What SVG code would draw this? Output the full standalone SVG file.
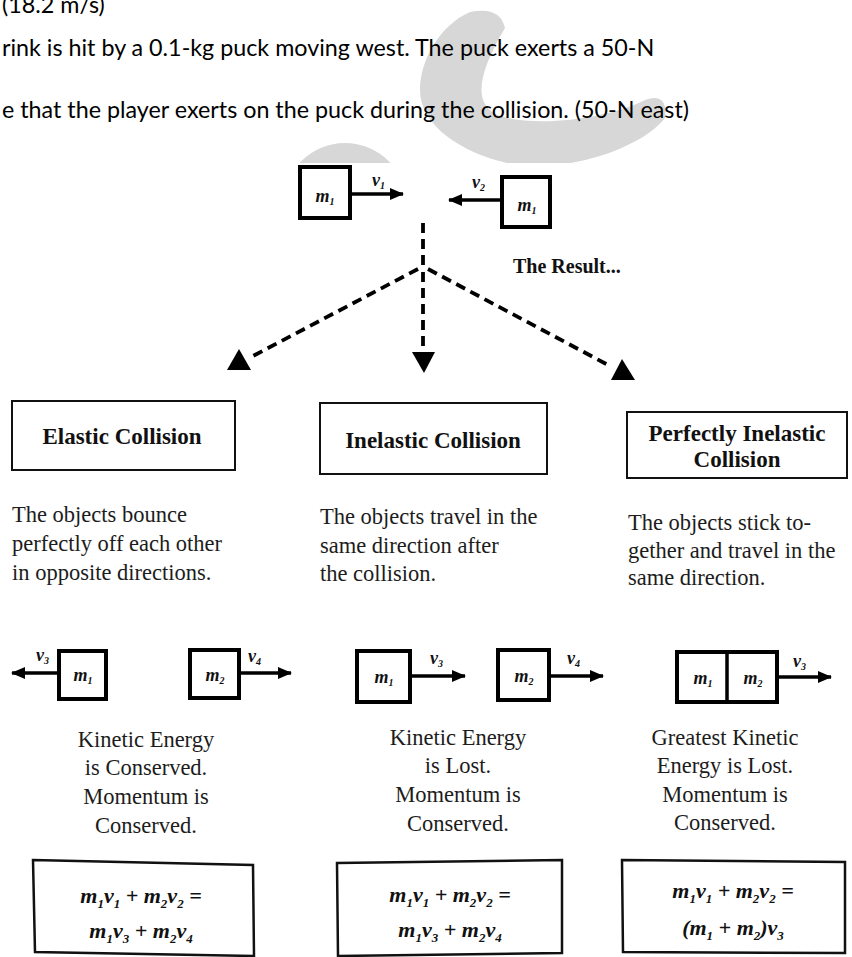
<svg xmlns="http://www.w3.org/2000/svg" width="852" height="957" viewBox="0 0 852 957">
<style>
.doc{font-family:Lato,"Liberation Sans",sans-serif;font-size:23.3px;fill:#000}
.ttl{font-family:"Liberation Serif",serif;font-weight:bold;font-size:23px;fill:#111}
.res{font-family:"Liberation Serif",serif;font-weight:bold;font-size:20px;fill:#111}
.body{font-family:"Liberation Serif",serif;font-size:22.5px;fill:#1c1c1c}
.eq{font-family:"Liberation Serif",serif;font-weight:bold;font-style:italic;font-size:22px;fill:#111}
.lbl{font-family:"Liberation Serif",serif;font-weight:bold;font-style:italic;font-size:18px;fill:#111}
.tbox{fill:none;stroke:#111;stroke-width:2}
.mbox{fill:#fff;stroke:#000;stroke-width:4}
.ebox{fill:none;stroke:#111;stroke-width:2.5}
.arr{stroke:#000;stroke-width:3.5;fill:none;marker-end:url(#ah)}
.dash{stroke:#000;stroke-width:3.8;stroke-dasharray:10 6;fill:none}
.head{fill:#000}
.wm{fill:#d7d7d7}
</style>
<defs>
<marker id="ah" viewBox="0 0 14 12" refX="13" refY="6" markerWidth="14" markerHeight="12" markerUnits="userSpaceOnUse" orient="auto">
<path d="M0,0 L14,6 L0,12 z" fill="#000"/>
</marker>
<clipPath id="topclip"><rect x="0" y="0" width="852" height="163"/></clipPath>
</defs>
<rect width="852" height="957" fill="#fff"/>
<g id="watermark" clip-path="url(#topclip)">
<path class="wm" d="M470 12 Q500 6 505 28 C480 70 470 105 500 116 C540 128 610 118 645 100 Q668 92 665 118 C640 150 560 175 507 163 C460 152 420 125 420 90 C420 60 440 25 470 12 Z"/>
<circle class="wm" cx="345" cy="205" r="62"/>
</g>
<g id="document-text">
<text class="doc" x="2" y="13">(18.2 m/s)</text>
<text class="doc" x="2" y="56">rink is hit by a 0.1-kg puck moving west. The puck exerts a 50-N</text>
<text class="doc" x="2" y="118">e that the player exerts on the puck during the collision. (50-N east)</text>
</g>
<g id="connectors">
<line class="arr" x1="352" y1="194" x2="403" y2="194"/>
<line class="arr" x1="500" y1="200" x2="449" y2="200"/>
<line class="dash" x1="423" y1="223" x2="423" y2="267"/>
<line class="dash" x1="423" y1="272" x2="423" y2="350"/>
<line class="dash" x1="418" y1="269" x2="253" y2="356"/>
<line class="dash" x1="428" y1="269" x2="610" y2="366"/>
<polygon class="head" points="239,349 227,370 251,370"/>
<polygon class="head" points="412,352 435,352 424,373"/>
<polygon class="head" points="622,359 611,380 635,380"/>
<line class="arr" x1="57" y1="673" x2="12" y2="673"/>
<line class="arr" x1="241" y1="673" x2="291" y2="673"/>
<line class="arr" x1="412" y1="676" x2="465" y2="676"/>
<line class="arr" x1="551" y1="676" x2="603" y2="676"/>
<line class="arr" x1="779" y1="677" x2="831" y2="677"/>
</g>
<g id="top-m1">
<rect class="mbox" x="300" y="167" width="50" height="51"/>
<text class="lbl" x="325" y="202" text-anchor="middle">m<tspan font-size="10" dy="3">1</tspan></text>
<text class="lbl" x="372" y="186">v<tspan font-size="10" dy="3">1</tspan></text>
</g>
<g id="top-m2">
<rect class="mbox" x="502" y="177" width="48" height="50"/>
<text class="lbl" x="527" y="211" text-anchor="middle">m<tspan font-size="10" dy="3">1</tspan></text>
<text class="lbl" x="472" y="188">v<tspan font-size="10" dy="3">2</tspan></text>
</g>
<g id="result-label">
<text class="res" x="513" y="273">The Result...</text>
</g>
<g id="elastic">
<rect class="tbox" x="12" y="401" width="223" height="69"/>
<text class="ttl" x="122" y="444" text-anchor="middle">Elastic Collision</text>
<text class="body" x="12" y="522">The objects bounce</text>
<text class="body" x="12" y="551">perfectly off each other</text>
<text class="body" x="12" y="580">in opposite directions.</text>
<rect class="mbox" x="59" y="651" width="47" height="48"/>
<text class="lbl" x="83" y="681" text-anchor="middle">m<tspan font-size="10" dy="3">1</tspan></text>
<text class="lbl" x="36" y="661">v<tspan font-size="10" dy="3">3</tspan></text>
<rect class="mbox" x="190" y="650" width="49" height="48"/>
<text class="lbl" x="215" y="681" text-anchor="middle">m<tspan font-size="10" dy="3">2</tspan></text>
<text class="lbl" x="248" y="662">v<tspan font-size="10" dy="3">4</tspan></text>
<text class="body" x="146" y="747" text-anchor="middle">Kinetic Energy</text>
<text class="body" x="146" y="775" text-anchor="middle">is Conserved.</text>
<text class="body" x="146" y="804" text-anchor="middle">Momentum is</text>
<text class="body" x="146" y="833" text-anchor="middle">Conserved.</text>
<polygon class="ebox" points="33,860 253,865 254,956 35,952"/>
<text class="eq" x="141" y="903" text-anchor="middle">m<tspan font-size="13" dy="5">1</tspan><tspan dy="-5">v</tspan><tspan font-size="13" dy="5">1</tspan><tspan dy="-5"> + m</tspan><tspan font-size="13" dy="5">2</tspan><tspan dy="-5">v</tspan><tspan font-size="13" dy="5">2</tspan><tspan dy="-5"> =</tspan></text>
<text class="eq" x="141" y="938" text-anchor="middle">m<tspan font-size="13" dy="5">1</tspan><tspan dy="-5">v</tspan><tspan font-size="13" dy="5">3</tspan><tspan dy="-5"> + m</tspan><tspan font-size="13" dy="5">2</tspan><tspan dy="-5">v</tspan><tspan font-size="13" dy="5">4</tspan></text>
</g>
<g id="inelastic">
<rect class="tbox" x="320" y="403" width="227" height="71"/>
<text class="ttl" x="433" y="448" text-anchor="middle">Inelastic Collision</text>
<text class="body" x="320" y="524">The objects travel in the</text>
<text class="body" x="320" y="553">same direction after</text>
<text class="body" x="320" y="581">the collision.</text>
<rect class="mbox" x="357" y="651" width="53" height="51"/>
<text class="lbl" x="384" y="683" text-anchor="middle">m<tspan font-size="10" dy="3">1</tspan></text>
<text class="lbl" x="430" y="664">v<tspan font-size="10" dy="3">3</tspan></text>
<rect class="mbox" x="498" y="650" width="51" height="50"/>
<text class="lbl" x="524" y="682" text-anchor="middle">m<tspan font-size="10" dy="3">2</tspan></text>
<text class="lbl" x="567" y="664">v<tspan font-size="10" dy="3">4</tspan></text>
<text class="body" x="458" y="745" text-anchor="middle">Kinetic Energy</text>
<text class="body" x="458" y="773" text-anchor="middle">is Lost.</text>
<text class="body" x="458" y="802" text-anchor="middle">Momentum is</text>
<text class="body" x="458" y="831" text-anchor="middle">Conserved.</text>
<polygon class="ebox" points="337,863 562,860 562,953 338,956"/>
<text class="eq" x="450" y="902" text-anchor="middle">m<tspan font-size="13" dy="5">1</tspan><tspan dy="-5">v</tspan><tspan font-size="13" dy="5">1</tspan><tspan dy="-5"> + m</tspan><tspan font-size="13" dy="5">2</tspan><tspan dy="-5">v</tspan><tspan font-size="13" dy="5">2</tspan><tspan dy="-5"> =</tspan></text>
<text class="eq" x="450" y="937" text-anchor="middle">m<tspan font-size="13" dy="5">1</tspan><tspan dy="-5">v</tspan><tspan font-size="13" dy="5">3</tspan><tspan dy="-5"> + m</tspan><tspan font-size="13" dy="5">2</tspan><tspan dy="-5">v</tspan><tspan font-size="13" dy="5">4</tspan></text>
</g>
<g id="perfectly-inelastic">
<rect class="tbox" x="627" y="412" width="220" height="66"/>
<text class="ttl" x="737" y="441" text-anchor="middle">Perfectly Inelastic</text>
<text class="ttl" x="737" y="467" text-anchor="middle">Collision</text>
<text class="body" x="628" y="530">The objects stick to-</text>
<text class="body" x="628" y="558">gether and travel in the</text>
<text class="body" x="628" y="585">same direction.</text>
<rect class="mbox" x="677" y="652" width="100" height="50"/>
<line x1="727" y1="652" x2="727" y2="702" stroke="#000" stroke-width="3.5"/>
<text class="lbl" x="703" y="684" text-anchor="middle">m<tspan font-size="10" dy="3">1</tspan></text>
<text class="lbl" x="753" y="684" text-anchor="middle">m<tspan font-size="10" dy="3">2</tspan></text>
<text class="lbl" x="793" y="667">v<tspan font-size="10" dy="3">3</tspan></text>
<text class="body" x="725" y="745" text-anchor="middle">Greatest Kinetic</text>
<text class="body" x="725" y="773" text-anchor="middle">Energy is Lost.</text>
<text class="body" x="725" y="802" text-anchor="middle">Momentum is</text>
<text class="body" x="725" y="830" text-anchor="middle">Conserved.</text>
<polygon class="ebox" points="622,860 845,862 845,953 623,952"/>
<text class="eq" x="733" y="898" text-anchor="middle">m<tspan font-size="13" dy="5">1</tspan><tspan dy="-5">v</tspan><tspan font-size="13" dy="5">1</tspan><tspan dy="-5"> + m</tspan><tspan font-size="13" dy="5">2</tspan><tspan dy="-5">v</tspan><tspan font-size="13" dy="5">2</tspan><tspan dy="-5"> =</tspan></text>
<text class="eq" x="733" y="935" text-anchor="middle">(m<tspan font-size="13" dy="5">1</tspan><tspan dy="-5"> + m</tspan><tspan font-size="13" dy="5">2</tspan><tspan dy="-5">)v</tspan><tspan font-size="13" dy="5">3</tspan></text>
</g>
</svg>
